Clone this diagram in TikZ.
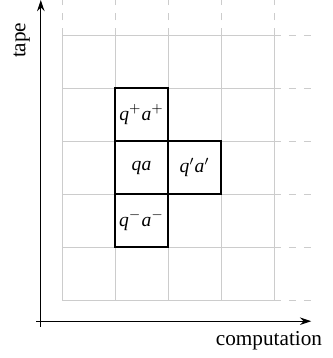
\documentclass[tikz,border=0pt]{standalone}
\usepackage{fontspec}
\setmainfont{Liberation Serif}
\usetikzlibrary{arrows.meta, positioning}

\begin{document}
\begin{tikzpicture}[
  gridline/.style={gray!40, line width=0.5pt},
  gridext/.style={gray!40, line width=0.5pt, dash pattern=on 4pt off 4pt},
  cell/.style={draw, line width=0.9pt, minimum size=1cm, inner sep=0pt,
               outer sep=0pt, font=\fontsize{10.5}{12}\selectfont},
  axis/.style={line width=0.6pt, -{Stealth[length=6pt, width=4pt]}},
  lbl/.style={font=\fontsize{11.4}{13}\selectfont}
]
  \useasboundingbox (-1.17,-1.094) rectangle (5.094,5.66);

  % Grid
  \draw[gridline] (0,0) grid (4,5);
  \foreach \x in {0,...,4}
    \draw[gridext] (\x,5) -- (\x,5.66);
  \foreach \y in {0,...,5}
    \draw[gridext] (4,\y) -- (4.7,\y);

  % Cells
  \node[cell] (qa) at (1.5,2.5) {\textit{qa}};
  \node[cell, above=0pt of qa] (qplus) {\textit{q}$^+$\textit{a}$^+$};
  \node[cell, below=0pt of qa] (qminus) {\textit{q}$^-$\textit{a}$^-$};
  \node[cell, right=0pt of qa] (qprime) {\textit{q}$'$\textit{a}$'$};

  % Axes
  \coordinate (origin) at (-0.4,-0.4);
  \coordinate (tapeend) at (-0.4,5.66);
  \coordinate (compend) at (4.7,-0.4);
  \draw[line width=0.6pt] (-0.4,-0.5) -- (origin) -- (-0.5,-0.4);
  \draw[axis] (origin) -- (tapeend);
  \draw[axis] (origin) -- (compend);
  \node[lbl, rotate=90] (tape) at (-0.76,4.9) {tape};
  \node[lbl, anchor=east] (comp) at (5.03,-0.76) {computation};
\end{tikzpicture}
\end{document}
